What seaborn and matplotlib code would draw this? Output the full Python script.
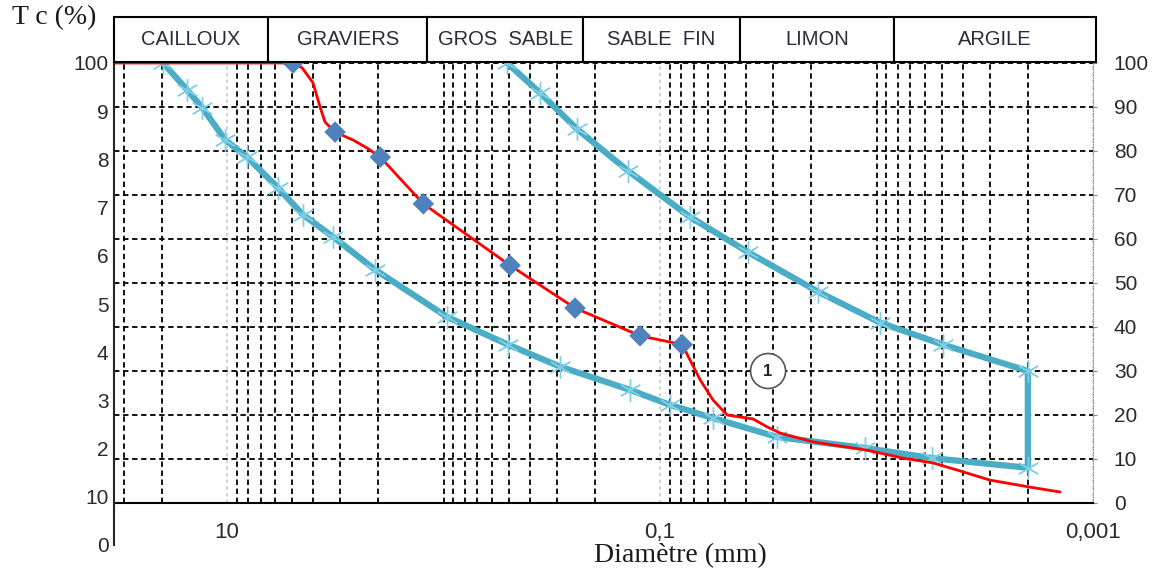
import numpy as np
import pandas as pd
import matplotlib
matplotlib.use("Agg")
import matplotlib.pyplot as plt
import matplotlib.ticker as mticker
from matplotlib.patches import Rectangle
import seaborn as sns

sns.set_style("white")
plt.rcParams["font.family"] = ["Liberation Sans", "DejaVu Sans"]

# ── Data ─────────────────────────────────────────────────────────────────────
# envelope (fuseau): lower limit, vertical close at 0.002 mm, then upper limit
env_d = [19.75, 15.3, 13.0, 10.2, 8.08, 5.81, 4.46, 3.24, 2.07, 0.964, 0.504,
         0.29, 0.1376, 0.09, 0.0569, 0.0288, 0.0113, 0.00554, 0.002,
         0.002, 0.00493, 0.00964, 0.0186, 0.0392, 0.0727, 0.1406, 0.242,
         0.358, 0.509]
env_p = [100, 93.9, 89.8, 82.5, 78.6, 71.6, 65.5, 60.5, 53, 42.3, 36,
         31, 25.7, 22.3, 19.3, 15, 12.5, 10.2, 8,
         30, 36, 41, 48, 57, 65, 75.5, 85,
         93.2, 100]

# sample 1 curve
s1_d = [33.3, 4.96, 4.50, 4.01, 3.72, 3.53, 3.17, 2.62, 2.26, 1.96, 1.24,
        0.493, 0.247, 0.1237, 0.079, 0.0653, 0.0569, 0.049, 0.0372, 0.032,
        0.0279, 0.0197, 0.01107, 0.00755, 0.00548, 0.00425, 0.00299,
        0.00195, 0.00142]
s1_p = [100, 100, 98.9, 95.5, 90, 86.6, 84.3, 82.5, 80.7, 78.6, 68,
        54, 44.3, 38, 36, 28, 23.4, 20, 19.1, 17.3,
        15.9, 13.9, 12, 10.2, 9.1, 7.5, 5.2,
        3.6, 2.5]
# sieve points (diamonds)
sieve_d = [4.96, 3.17, 1.96, 1.24, 0.493, 0.247, 0.1237, 0.079]
sieve_p = [100, 84.3, 78.6, 68, 54, 44.3, 38, 36]

# soil classes header
class_names = ["CAILLOUX", "GRAVIERS", "GROS  SABLE", "SABLE  FIN", "LIMON", "ARGILE"]
class_bounds = [33.3, 6.47, 1.19, 0.227, 0.0427, 0.0083, 0.00097]

x_major = [10, 0.1, 0.001]
x_major_labels = ["10", "0,1", "0,001"]
left_ticks = [0, 10, 20, 30, 40, 50, 60, 70, 80, 90, 100]
left_labels = ["0", "10", "2", "3", "4", "5", "6", "7", "8", "9", "100"]

env_df = pd.DataFrame({"d": env_d, "p": env_p})
s1_df = pd.DataFrame({"d": s1_d, "p": s1_p})
sv_df = pd.DataFrame({"d": sieve_d, "p": sieve_p})

# ── Figure layout ────────────────────────────────────────────────────────────
W, H = 1167, 575
fig = plt.figure(figsize=(W / 100, H / 100), dpi=100)
ax = fig.add_axes([114 / W, 1 - 503 / H, (1093 - 114) / W, 440 / H])
ax.set_xscale("log")

# curves
sns.lineplot(data=env_df, x="d", y="p", sort=False, estimator=None, ax=ax,
             color="#4bacc6", lw=4.5, marker=(6, 2, 0), markersize=16,
             markeredgecolor="#7fd0e6", markeredgewidth=1.0, zorder=3)
sns.lineplot(data=s1_df, x="d", y="p", sort=False, estimator=None, ax=ax,
             color="#ff0000", lw=2.0, zorder=4)
sns.scatterplot(data=sv_df, x="d", y="p", ax=ax, marker="D", s=120,
                color="#4f81bd", edgecolor="none", zorder=5)
ax.set_xlabel("")
ax.set_ylabel("")
ax.set_xlim(33.3, 0.001)
ax.set_ylim(0, 100)

ax.text(0.0317, 30, "1", ha="center", va="center", fontsize=12,
        fontweight="bold", color="#222222", zorder=6,
        bbox=dict(boxstyle="circle,pad=0.6", fc="white", ec="#555555", lw=1.2))

# grid and ticks
ax.set_xticks(x_major, x_major_labels)
ax.xaxis.set_minor_locator(mticker.LogLocator(base=10, subs=np.arange(1, 10), numticks=50))
ax.xaxis.set_minor_formatter(mticker.NullFormatter())
ax.yaxis.set_major_locator(mticker.MultipleLocator(10))
ax.xaxis.grid(True, which="minor", color="black", ls=(0, (3, 2)), lw=1.3)
ax.xaxis.grid(True, which="major", color="#c8c8c8", ls=(0, (2, 2)), lw=1.2)
ax.yaxis.grid(True, which="major", color="black", ls=(0, (3, 2)), lw=1.3)

ax.yaxis.tick_right()
ax.tick_params(axis="y", which="major", length=3, pad=12, labelsize=15,
               colors="#888888", labelcolor="#2a2a2a")
ax.tick_params(axis="x", which="major", length=5, width=1.5, pad=9,
               labelsize=16, direction="out", labelcolor="#2a2a2a")
ax.tick_params(axis="x", which="minor", length=0)
for s in ["top", "left"]:
    ax.spines[s].set_visible(False)
ax.spines["bottom"].set_color("black")
ax.spines["bottom"].set_linewidth(1.5)
ax.spines["right"].set_color("#999999")
ax.spines["right"].set_linestyle((0, (1, 1.5)))

# left axis (labels only)
axl = fig.add_axes([114 / W, 1 - 545 / H, 0.001, (545 - 63) / H])
axl.set_ylim(0, 100)
axl.set_yticks(left_ticks)
axl.set_yticklabels(left_labels)
axl.set_xticks([])
axl.patch.set_alpha(0)
for s in ["top", "right", "bottom"]:
    axl.spines[s].set_visible(False)
axl.spines["left"].set_linewidth(1.5)
axl.tick_params(axis="y", length=0, pad=4, labelsize=15, labelcolor="#2a2a2a")

# header with soil classes
axh = fig.add_axes([114 / W, 1 - 62 / H, (1096 - 114) / W, 45 / H])
axh.set_xscale("log")
axh.set_xlim(33.3, 0.00097)
axh.set_ylim(0, 1)
axh.axis("off")
for name, a, b in zip(class_names, class_bounds[:-1], class_bounds[1:]):
    axh.add_patch(Rectangle((a, 0), b - a, 1, fc="white", ec="black", lw=1.5,
                            clip_on=False))
    axh.text(np.sqrt(a * b), 0.5, name, ha="center", va="center",
             fontsize=14.5, color="#2b2b3b")

fig.text(12 / W, 1 - 18 / H, "T c (%)", family="Liberation Serif",
         fontsize=20, va="center", ha="left", color="#1a1a1a")
fig.text(680 / W, 1 - 556 / H, "Diamètre (mm)", family="Liberation Serif",
         fontsize=20, va="center", ha="center", color="#1a1a1a")

plt.savefig("out.png", dpi=100)
plt.close()
